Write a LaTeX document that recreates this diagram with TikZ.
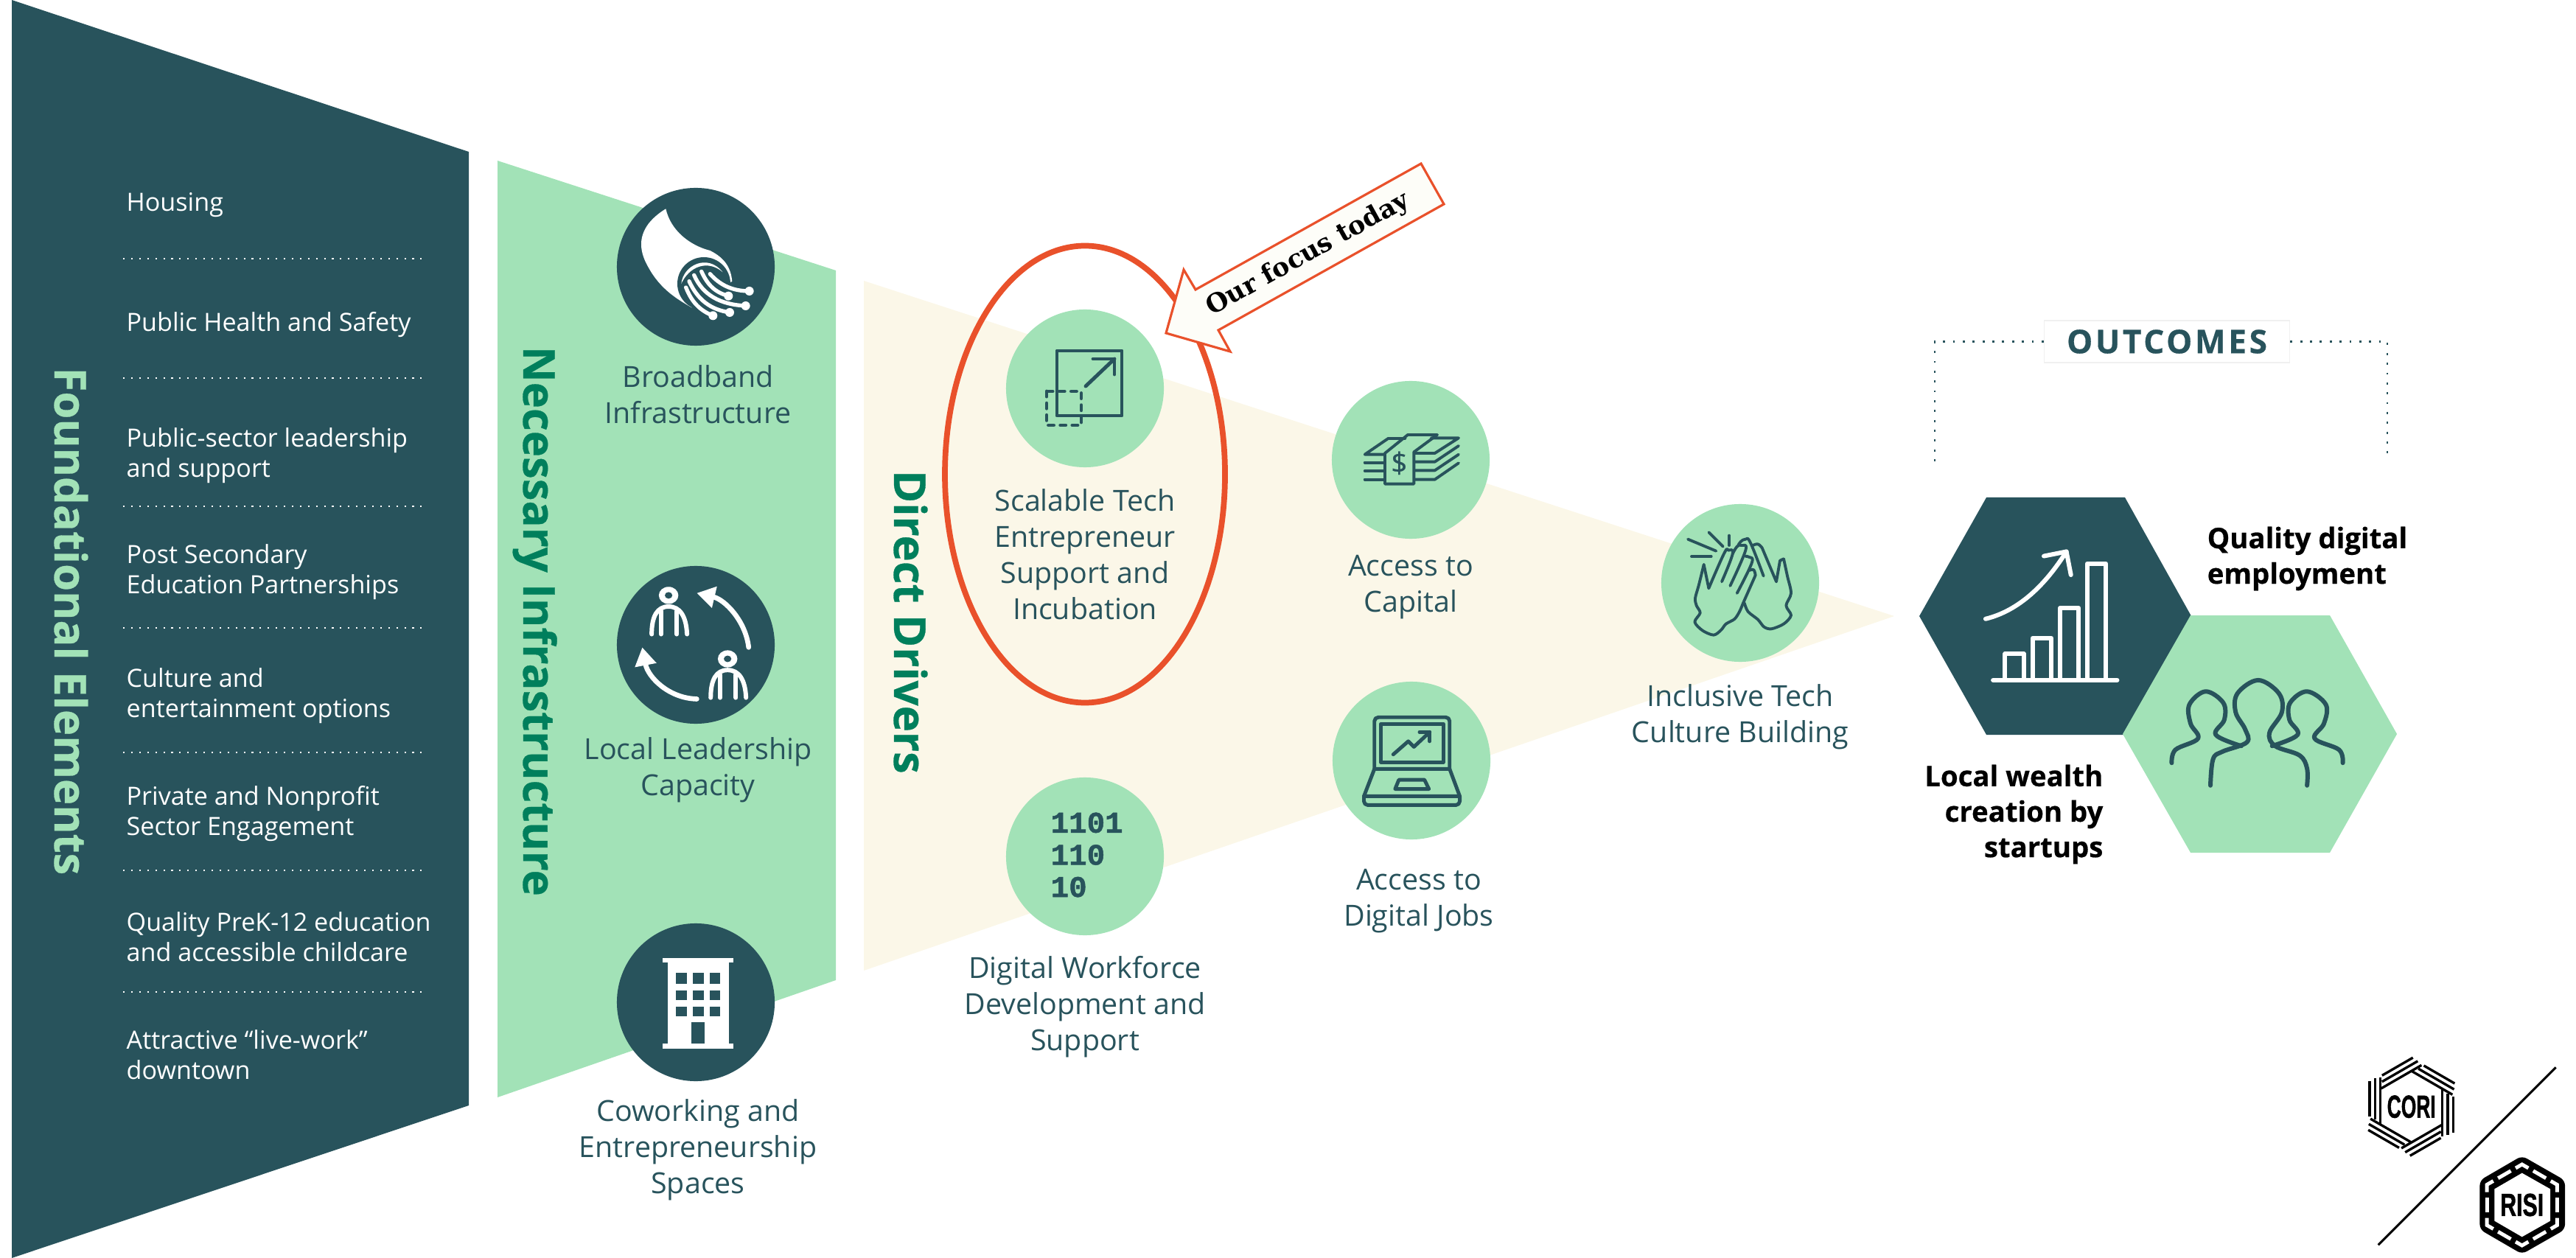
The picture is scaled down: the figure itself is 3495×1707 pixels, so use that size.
\documentclass[tikz,border=0pt]{standalone}
\usepackage{fontspec}
\setmainfont{Open Sans}
\newfontfamily\slabfont{DejaVu Serif}
\newfontfamily\binfont{Liberation Mono}
\newfontfamily\logofont{Liberation Sans}
\usetikzlibrary{arrows.meta}
\definecolor{coridark}{HTML}{28535C}
\definecolor{corigreen}{HTML}{A2E2B7}
\definecolor{cream}{HTML}{FBF7E8}
\definecolor{headgreen}{HTML}{007F5C}
\definecolor{focusred}{HTML}{E9512B}
\definecolor{paper}{HTML}{FDFDF8}
\begin{document}
\begin{tikzpicture}[
    x=0.01cm, y=-0.01cm,
    darkdisc/.style={circle, fill=coridark, minimum size=2.14cm, inner sep=0pt},
    lightdisc/.style={circle, fill=corigreen, minimum size=2.14cm, inner sep=0pt},
    lbl/.style={text=coridark, align=center, inner sep=0pt, font=\fontsize{11.2}{13.9}\selectfont},
    item/.style={text=white, anchor=west, align=left, inner sep=0pt, font=\fontsize{9.7}{11.7}\selectfont},
    head/.style={rotate=-90, anchor=base, inner sep=0pt, font=\fontsize{17}{20}\selectfont\bfseries\addfontfeature{FakeBold=0.5}},
    result/.style={text=black, inner sep=0pt, font=\fontsize{10.9}{13.7}\selectfont\bfseries\addfontfeature{FakeBold=0.5}},
    sep/.style={white, line width=0.6pt, dash pattern=on 0.6pt off 2.5pt},
    bracket/.style={coridark, line width=0.8pt, dash pattern=on 0.8pt off 3pt},
    icon/.style={coridark, line width=1.1pt, line cap=round, line join=round},
    whiteicon/.style={white, line width=1.7pt, line cap=round, line join=round}
]
    \useasboundingbox (0,0) rectangle (3495,1707);

    \fill[coridark] (16,0) -- (636,206) -- (636,1500) -- (16,1707) -- cycle;
    \fill[corigreen] (675,218) -- (1134,367) -- (1134,1330) -- (675,1489) -- cycle;
    \fill[cream] (1172,381) -- (2570,836) -- (1172,1317) -- cycle;

    \node[head, text=corigreen] (foundation) at (74,843) {Foundational Elements};
    \node[head, text=headgreen] (necessary) at (710,843) {Necessary Infrastructure};
    \node[head, text=headgreen] (direct) at (1213,844) {Direct Drivers};

    \node[item] (i1) at (171,278) {Housing};
    \node[item] (i2) at (171,441) {Public Health and Safety};
    \node[item] (i3) at (171,618) {Public-sector leadership\\and support};
    \node[item] (i4) at (171,776) {Post Secondary\\Education Partnerships};
    \node[item] (i5) at (171,944) {Culture and\\entertainment options};
    \node[item] (i6) at (171,1104) {Private and Nonprofit\\Sector Engagement};
    \node[item] (i7) at (171,1271) {Quality PreK-12 education\\and accessible childcare};
    \node[item] (i8) at (171,1431) {Attractive “live-work”\\downtown};

    \draw[sep] (167,351) -- (572,351);
    \draw[sep] (167,513) -- (572,513);
    \draw[sep] (167,687) -- (572,687);
    \draw[sep] (167,852) -- (572,852);
    \draw[sep] (167,1021) -- (572,1021);
    \draw[sep] (167,1181) -- (572,1181);
    \draw[sep] (167,1346) -- (572,1346);

    \node[darkdisc] (fiber) at (944,362) {};
    \node[darkdisc] (leaders) at (944,875) {};
    \node[darkdisc] (building) at (944,1360) {};

    \node[lightdisc] (scalable) at (1472,527) {};
    \node[lightdisc] (binary) at (1472,1162) {};
    \node[lightdisc] (capital) at (1914,624) {};
    \node[lightdisc] (jobs) at (1915,1032) {};
    \node[lightdisc] (hands) at (2361,791) {};

    \node[lbl] (t1) at (947,535) {Broadband\\Infrastructure};
    \node[lbl] (t2) at (947,1045) {Local Leadership\\Capacity};
    \node[lbl] (t3) at (947,1560) {Coworking and\\Entrepreneurship\\Spaces};
    \node[lbl] (t4) at (1472,752) {Scalable Tech\\Entrepreneur\\Support and\\Incubation};
    \node[lbl] (t5) at (1472,1366) {Digital Workforce\\Development and\\Support};
    \node[lbl] (t6) at (1914,797) {Access to\\Capital};
    \node[lbl] (t7) at (1925,1223) {Access to\\Digital Jobs};
    \node[lbl] (t8) at (2361,973) {Inclusive Tech\\Culture Building};

    \begin{scope}[shift={(860,270)}, scale=0.3333]
        \fill[white] (130,40) .. controls (150,130) and (230,190) .. (310,210)
            .. controls (370,240) and (395,280) .. (400,335) -- (235,442)
            .. controls (180,410) and (110,370) .. (60,280)
            .. controls (25,220) and (15,160) .. (60,100) .. controls (80,75) and (105,55) .. (130,40) -- cycle;
        \fill[coridark] (285,345) circle[radius=108];
        \fill[white] (193,345) .. controls (200,270) and (300,220) .. (362,298)
            .. controls (300,245) and (225,275) .. (193,345) -- cycle;
        \draw[white, line width=1.5pt, line cap=round] (310,305) .. controls (350,350) and (400,375) .. (470,375);
        \draw[white, line width=1.5pt, line cap=round] (275,295) .. controls (300,350) and (330,380) .. (385,395);
        \draw[white, line width=1.5pt, line cap=round] (245,310) .. controls (280,390) and (350,430) .. (455,435);
        \draw[white, line width=1.5pt, line cap=round] (225,335) .. controls (260,410) and (310,450) .. (390,462);
        \draw[white, line width=1.5pt, line cap=round] (212,360) .. controls (235,420) and (270,455) .. (322,475);
        \fill[white] (470,375) circle[radius=18];
        \fill[white] (385,395) circle[radius=18];
        \fill[white] (455,435) circle[radius=18];
        \fill[white] (390,462) circle[radius=18];
        \fill[white] (322,475) circle[radius=18];
    \end{scope}

    \begin{scope}[shift={(800,740)}, xscale=0.51, yscale=0.4464]
        \fill[white] (210,152) circle[radius=26];
        \fill[coridark] (210,152) circle[radius=10];
        \draw[whiteicon] (165,270) .. controls (165,215) and (180,186) .. (210,186) .. controls (240,186) and (257,215) .. (259,270);
        \draw[whiteicon] (190,200) -- (190,270);
        \draw[whiteicon] (232,200) -- (232,270);
        \fill[white] (367,345) circle[radius=26];
        \fill[coridark] (367,345) circle[radius=10];
        \draw[whiteicon] (322,463) .. controls (322,408) and (337,379) .. (367,379) .. controls (397,379) and (414,408) .. (416,463);
        \draw[whiteicon] (347,393) -- (347,463);
        \draw[whiteicon] (389,393) -- (389,463);
        \draw[whiteicon, line width=1.9pt, -{Triangle[length=7pt,width=8pt]}] (423,310) .. controls (415,230) and (360,165) .. (285,145);
        \draw[whiteicon, line width=1.9pt, -{Triangle[length=7pt,width=8pt]}] (285,467) .. controls (210,465) and (155,400) .. (140,310);
    \end{scope}

    \begin{scope}[shift={(800,740)}, xscale=0.51, yscale=0.4464]
        \fill[white] (195,1255) rectangle (382,1268);
        \fill[white] (207,1268) rectangle (370,1515);
        \fill[white] (195,1515) rectangle (382,1530);
        \fill[coridark] (230,1300) rectangle (258,1332);
        \fill[coridark] (274,1300) rectangle (303,1332);
        \fill[coridark] (320,1300) rectangle (348,1332);
        \fill[coridark] (230,1352) rectangle (258,1382);
        \fill[coridark] (274,1352) rectangle (303,1382);
        \fill[coridark] (320,1352) rectangle (348,1382);
        \fill[coridark] (230,1402) rectangle (258,1432);
        \fill[coridark] (274,1402) rectangle (303,1432);
        \fill[coridark] (320,1402) rectangle (348,1432);
        \fill[coridark] (270,1450) rectangle (305,1515);
    \end{scope}

    \draw[icon, line width=1.4pt] (1434,476) rectangle (1522,564);
    \draw[icon, line width=1.4pt, dash pattern=on 2pt off 2.6pt] (1420,531) rectangle (1467,577);
    \draw[icon, line width=1.4pt] (1473,524) -- (1512,487);
    \draw[icon, line width=1.4pt] (1483,487) -- (1512,487) -- (1512,508);

    \node[text=coridark, anchor=west, align=left, inner sep=0pt, font=\fontsize{11.6}{12.4}\selectfont\binfont\bfseries\addfontfeature{FakeBold=1.2}] (bits) at (1425,1160) {1101\\110\\10};

    \begin{scope}[shift={(1825,560)}, scale=0.3333]
        \draw[icon] (162,290) -- (162,165) -- (255,90) -- (375,90) -- (280,160) -- (280,290) -- cycle;
        \draw[icon] (162,170) -- (80,170) -- (175,105) -- (245,105);
        \draw[icon] (80,203) -- (160,203);
        \draw[icon] (80,237) -- (160,237);
        \draw[icon] (80,272) -- (160,272);
        \draw[icon] (285,165) -- (365,165) -- (462,103) -- (350,103);
        \draw[icon] (285,200) -- (365,200) -- (462,135);
        \draw[icon] (285,235) -- (365,235) -- (462,170);
        \draw[icon] (285,272) -- (365,272) -- (462,205);
        \node[text=coridark, inner sep=0pt, font=\fontsize{11}{12}\selectfont\addfontfeature{FakeBold=0.6}] (dollar) at (220,205) {\$};
    \end{scope}

    \begin{scope}[shift={(1750,480)}, xscale=0.51, yscale=0.4464]
        \draw[icon, line width=1.4pt, rounded corners=1.5pt] (225,1262) -- (225,1105) -- (425,1105) -- (425,1262);
        \draw[icon, line width=1.4pt] (242,1125) rectangle (408,1242);
        \draw[icon, line width=1.4pt] (275,1218) -- (315,1178) -- (330,1195) -- (372,1150);
        \draw[icon, line width=1.4pt] (345,1150) -- (372,1150) -- (372,1178);
        \draw[icon, line width=1.4pt] (225,1262) -- (425,1262) -- (452,1345) -- (197,1345) -- cycle;
        \draw[icon, line width=1.4pt, rounded corners=1.5pt] (197,1345) -- (197,1372) -- (452,1372) -- (452,1345);
        \draw[icon, line width=1.4pt] (290,1295) -- (358,1295) -- (370,1323) -- (280,1323) -- cycle;
    \end{scope}

    \begin{scope}[shift={(2260,690)}, scale=0.3333]
        \draw[icon] (90,125) -- (205,173);
        \draw[icon] (105,195) -- (185,195);
        \draw[icon] (175,97) -- (233,155);
        \draw[icon] (258,110) -- (258,150);
        \draw[icon] plot[smooth, tension=0.5] coordinates {(155,228) (135,310) (120,365) (125,395) (140,425) (118,462) (150,497) (195,515) (225,495) (245,470) (280,450) (300,420) (315,385)};
        \draw[icon] (175,325) -- (155,228);
        \draw[icon] (315,385) -- (365,272);
        \draw[icon] plot[smooth, tension=0.7] coordinates {(175,325) (238,182) (255,170) (272,185) (228,298)};
        \draw[icon] plot[smooth, tension=0.7] coordinates {(272,185) (290,155) (308,150) (325,170) (262,315)};
        \draw[icon] plot[smooth, tension=0.7] coordinates {(325,195) (340,198) (350,222) (290,345)};
        \draw[icon] plot[smooth, tension=0.7] coordinates {(340,252) (358,250) (365,272)};
        \draw[icon] plot[smooth, tension=0.5] coordinates {(320,385) (335,420) (375,452) (400,482) (430,490) (480,470) (510,435) (490,395) (510,345) (495,275) (480,205)};
        \draw[icon] (480,205) -- (465,212) -- (450,298) -- (392,160);
        \draw[icon] plot[smooth, tension=0.7] coordinates {(392,160) (375,145) (355,150)};
        \draw[icon] plot[smooth, tension=0.7] coordinates {(398,275) (345,140) (325,125) (305,135) (295,150)};
    \end{scope}

    \draw[focusred, line width=2.2pt] (1472,643.5) ellipse[x radius=190, y radius=310];

    \filldraw[draw=focusred, fill=paper, line width=0.9pt, line join=miter] (1928,222) -- (1959,277) -- (1653,448) -- (1669,477) -- (1582,452) -- (1606,366) -- (1622,393) -- cycle;
    \node[rotate=29, inner sep=0pt, font=\fontsize{9.9}{11}\selectfont\slabfont\bfseries] (focus) at (1775,345) {Our focus today};

    \fill[coridark] (2604,836) -- (2695,675) -- (2883,675) -- (2973,836) -- (2883,997) -- (2695,997) -- cycle;
    \fill[corigreen] (2880,996) -- (2972,835) -- (3161,835) -- (3252,996) -- (3161,1157) -- (2972,1157) -- cycle;

    \begin{scope}[shift={(2500,400)}, scale=0.5102]
        \draw[whiteicon] (400,1025) -- (730,1025);
        \draw[whiteicon] (432,1025) -- (432,955) -- (482,955) -- (482,1025);
        \draw[whiteicon] (505,1025) -- (505,913) -- (555,913) -- (555,1025);
        \draw[whiteicon] (578,1025) -- (578,833) -- (628,833) -- (628,1025);
        \draw[whiteicon] (650,1025) -- (650,715) -- (700,715) -- (700,1025);
        \draw[whiteicon] (380,862) .. controls (470,840) and (540,770) .. (595,683);
        \draw[whiteicon] (535,695) -- (595,683) -- (607,745);
        \draw[icon, line width=1.7pt] plot[smooth, tension=0.6] coordinates {(978,1305) (985,1235) (1010,1215) (1075,1190) (1070,1155) (1045,1110) (1050,1060) (1105,1025) (1160,1060) (1168,1110) (1135,1165) (1150,1200) (1215,1225) (1235,1260) (1235,1305)};
        \draw[icon, line width=1.7pt] plot[smooth, tension=0.6] coordinates {(875,1245) (885,1210) (945,1180) (925,1140) (922,1090) (965,1055) (1012,1085) (1015,1130) (992,1170) (1060,1200)};
        \draw[icon, line width=1.7pt] plot[smooth, tension=0.6] coordinates {(1330,1245) (1320,1210) (1255,1180) (1280,1140) (1285,1090) (1235,1055) (1190,1085) (1188,1130) (1210,1170) (1142,1200)};
    \end{scope}

    \node[result, anchor=west, align=left] (employment) at (2994,758) {Quality digital\\employment};
    \node[result, anchor=east, align=right] (wealth) at (2854,1105) {Local wealth\\creation by\\startups};

    \coordinate (brl) at (2625,632);
    \coordinate (brr) at (3239,620);
    \node[draw=black!6, fill=white, text=coridark, minimum width=3.33cm, minimum height=0.57cm, inner sep=0pt, font=\fontsize{12.6}{14}\selectfont\bfseries\addfontfeature{LetterSpace=8,FakeBold=0.4}] (outcomes) at (2940,463.5) {OUTCOMES};
    \draw[bracket] (outcomes.west) -| (brl);
    \draw[bracket] (outcomes.east) -| (brr);

    \begin{scope}[shift={(3100,1400)}, scale=0.3333]
        \draw[black, line width=0.85pt] (1103,145) -- (380,868);
    \end{scope}

    \begin{scope}[shift={(3271.7,1501.7)}, scale=0.3333]
        \foreach \a in {0,60,...,300} {
            \draw[black, line width=0.95pt, rotate=\a] (-170,-105) -- (-170,40);
            \draw[black, line width=0.95pt, rotate=\a] (-148,-115) -- (-148,53);
            \draw[black, line width=0.95pt, rotate=\a] (-126,-120) -- (-126,70);
        }
        \node[inner sep=0pt, xscale=0.61, font=\fontsize{12.3}{14}\selectfont\logofont\bfseries\addfontfeature{FakeBold=1.5}] (cori) at (0,0) {CORI};
    \end{scope}

    \begin{scope}[shift={(3421.7,1635)}, scale=0.3333]
        \fill[black, rounded corners=2pt] (0,-200) -- (175,-100) -- (175,100) -- (0,200) -- (-172,100) -- (-172,-100) -- cycle;
        \fill[white] (0,-130) -- (115,-65) -- (115,65) -- (0,130) -- (-112,65) -- (-112,-65) -- cycle;
        \foreach \a in {0,60,...,300} {
            \draw[white, line width=1.4pt, rotate=\a] (-26,-150) -- (0,-165) -- (26,-150);
            \draw[white, line width=1.4pt, rotate=\a] (-143,-30) -- (-143,30);
        }
        \node[inner sep=0pt, xscale=0.7, font=\fontsize{12.3}{14}\selectfont\logofont\bfseries\addfontfeature{FakeBold=1.5}] (risi) at (0,0) {RISI};
    \end{scope}
\end{tikzpicture}
\end{document}
